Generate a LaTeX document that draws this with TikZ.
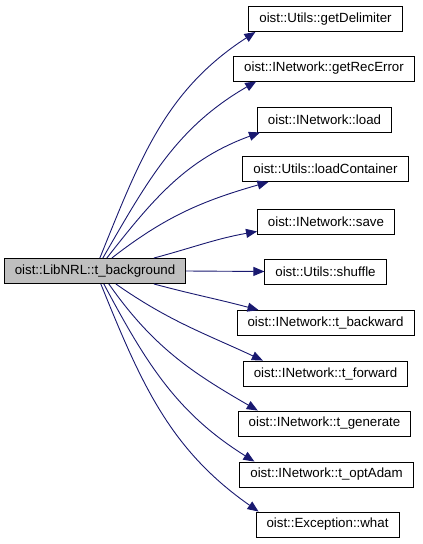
\documentclass[tikz,border=0pt]{standalone}
\usepackage{fontspec}
\setmainfont{Liberation Sans}
\usetikzlibrary{arrows.meta}
\definecolor{edgeblue}{HTML}{191970}
\definecolor{srcgray}{HTML}{BFBFBF}
\tikzset{
  fnbox/.style={draw=black, line width=0.9pt, fill=white, minimum height=25pt, inner xsep=10.5pt, inner ysep=0pt, font=\fontsize{13.3}{16}\selectfont, anchor=center},
  srcbox/.style={fnbox, fill=srcgray},
  calledge/.style={draw=edgeblue, line width=0.9pt, -{Triangle[length=11pt,width=9pt]}},
}
\begin{document}
\begin{tikzpicture}[x=1pt,y=1pt]
\useasboundingbox (0,0) rectangle (423,-544);
\node[srcbox] (src) at (95,-271) {oist::LibNRL::t\_background};
\node[fnbox] (d1) at (325.5,-19) {oist::Utils::getDelimiter};
\node[fnbox] (d2) at (324,-68.5) {oist::INetwork::getRecError};
\node[fnbox] (d3) at (324.5,-119.5) {oist::INetwork::load};
\node[fnbox] (d4) at (325.5,-169) {oist::Utils::loadContainer};
\node[fnbox] (d5) at (326,-221.5) {oist::INetwork::save};
\node[fnbox] (d6) at (325.5,-271.5) {oist::Utils::shuffle};
\node[fnbox] (d7) at (325.5,-323) {oist::INetwork::t\_backward};
\node[fnbox] (d8) at (325.5,-373.5) {oist::INetwork::t\_forward};
\node[fnbox] (d9) at (324.5,-423.5) {oist::INetwork::t\_generate};
\node[fnbox] (d10) at (326.5,-474.5) {oist::INetwork::t\_optAdam};
\node[fnbox] (d11) at (327.5,-524.5) {oist::Exception::what};

\draw[calledge] ([xshift=96pt]src.north west) to[out=68,in=213] ([xshift=7pt]d1.south west);
\draw[calledge] ([xshift=99pt]src.north west) to[out=60,in=210] ([xshift=23pt]d2.south west);
\draw[calledge] ([xshift=103pt]src.north west) to[out=52,in=200] ([xshift=3pt]d3.south west);
\draw[calledge] ([xshift=108pt]src.north west) to[out=38,in=196] ([xshift=26pt]d4.south west);
\draw[calledge] ([xshift=150pt]src.north west) to[out=15,in=190] ([yshift=3pt]d5.south west);
\draw[calledge] (src.east) -- (d6.west);
\draw[calledge] ([xshift=150pt]src.south west) to[out=-15,in=165] ([xshift=22pt]d7.north west);
\draw[calledge] ([xshift=112pt]src.south west) to[out=-35,in=155] ([xshift=20pt]d8.north west);
\draw[calledge] ([xshift=105pt]src.south west) to[out=-55,in=150] ([xshift=20pt]d9.north west);
\draw[calledge] ([xshift=100pt]src.south west) to[out=-62,in=148] ([xshift=15pt]d10.north west);
\draw[calledge] ([xshift=97pt]src.south west) to[out=-68,in=145] ([xshift=3pt]d11.north west);
\end{tikzpicture}
\end{document}
